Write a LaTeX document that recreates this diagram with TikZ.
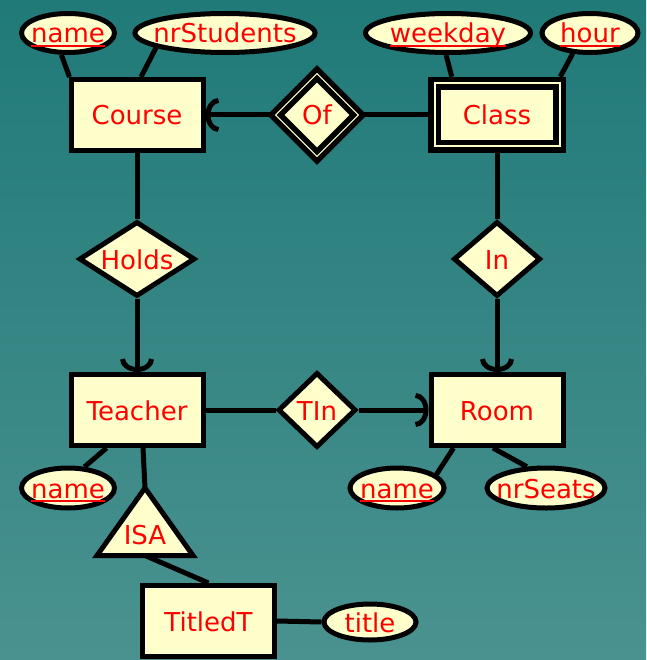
\documentclass[tikz,border=0pt]{standalone}
\usepackage{fontspec}
\setmainfont{DejaVu Sans}
\usetikzlibrary{shapes.geometric,arrows.meta}
\definecolor{bgtop}{RGB}{32,122,120}
\definecolor{bgbot}{RGB}{74,146,144}
\definecolor{erfill}{RGB}{255,255,204}
\newcommand{\attrtext}[1]{\makebox[0pt]{#1}}
\newcommand{\keytext}[1]{\makebox[0pt]{\setbox0\hbox{#1}\rlap{\raisebox{-3.6pt}{\rule{\wd0}{1.8pt}}}\box0}}
\begin{document}
\begin{tikzpicture}[x=1pt,y=-1pt,
  lbl/.style={text=red,font=\fontsize{26}{30}\selectfont,text height=20pt,text depth=0pt},
  entity/.style={lbl,draw,fill=erfill,line width=5pt,inner sep=0pt,minimum width=132pt,minimum height=71pt},
  weak/.style={entity,line width=5.5pt,double=erfill,double distance=2pt,minimum width=125pt,minimum height=63pt},
  rel/.style={lbl,diamond,draw,fill=erfill,line width=5pt,inner sep=0pt},
  weakrel/.style={rel,line width=5.5pt,double=erfill,double distance=1.2pt},
  attr/.style={lbl,ellipse,draw,fill=erfill,line width=5pt,inner sep=0pt,minimum height=39pt},
  link/.style={line width=5pt},
  arcend/.style={-{Arc Barb[length=13pt,width=34pt]}}]
  \useasboundingbox (0,0) rectangle (646,660);
  \shade[top color=bgtop,bottom color=bgbot] (0,0) rectangle (646,660);

  \node[entity] (course) at (137,115) {Course};
  \node[weak] (cls) at (497,115) {Class};
  \node[weakrel,minimum width=85pt,minimum height=85pt] (of) at (317,115) {Of};
  \node[rel,aspect=1.53,minimum width=116pt,minimum height=75pt] (holds) at (137,259) {Holds};
  \node[rel,aspect=1.15,minimum width=87pt,minimum height=75pt] (inrel) at (497,259) {In};
  \node[entity] (teacher) at (137,410) {Teacher};
  \node[entity] (room) at (497,410) {Room};
  \node[rel,minimum width=78pt,minimum height=75pt] (tin) at (317,410) {TIn};
  \node[entity] (titled) at (208.5,621) {TitledT};

  \node[attr,minimum width=93pt] (cname) at (68,33) {\keytext{name}};
  \node[attr,minimum width=180pt] (nrstud) at (225,33) {\attrtext{nrStudents}};
  \node[attr,minimum width=165pt] (weekday) at (448,33) {\keytext{weekday}};
  \node[attr,minimum width=96pt] (hour) at (590,33) {\keytext{hour}};
  \node[attr,minimum width=93pt,minimum height=40pt] (tname) at (68,488) {\keytext{name}};
  \node[attr,minimum width=94pt,minimum height=40pt] (rname) at (397,488) {\keytext{name}};
  \node[attr,minimum width=118pt,minimum height=40pt] (nrseats) at (546,488) {\attrtext{nrSeats}};
  \node[attr,minimum width=92pt,minimum height=36pt] (title) at (370,622) {\attrtext{title}};

  \coordinate (isatop) at (145,488);
  \coordinate (isaleft) at (97,555.5);
  \coordinate (isaright) at (193,555.5);
  \coordinate (isabase) at (145,555.5);
  \draw[link] ([xshift=6pt]teacher.south) -- (isatop);
  \draw[link,fill=erfill] (isatop) -- (isaright) -- (isaleft) -- cycle;
  \node[lbl] (isa) at (145,534) {ISA};

  \draw[link,arcend] (of.west) -- (course.east);
  \draw[link] (of.east) -- ([xshift=-4pt]cls.west);
  \draw[link] (course.south) -- (holds.north);
  \draw[link,arcend] (holds.south) -- (teacher.north);
  \draw[link] ([yshift=-4pt]cls.south) -- (inrel.north);
  \draw[link,arcend] (inrel.south) -- (room.north);
  \draw[link] (teacher.east) -- (tin.west);
  \draw[link,arcend] (tin.east) -- (room.west);
  \draw[link] (isabase) -- (titled.north);
  \draw[link] (titled.east) -- (title.west);

  \draw[link] (cname.253) -- ([xshift=1pt]course.north west);
  \draw[link] (nrstud.192) -- ([xshift=4pt]course.north);
  \draw[link] (weekday.265) -- ([xshift=20pt,yshift=4pt]cls.north west);
  \draw[link] (hour.230) -- ([xshift=-2pt,yshift=4pt]cls.north east);
  \draw[link] (tname.52) -- ([xshift=38pt]teacher.south west);
  \draw[link] (rname.19) -- ([xshift=25pt]room.south west);
  \draw[link] (nrseats.132) -- ([xshift=-4pt]room.south);
\end{tikzpicture}
\end{document}
